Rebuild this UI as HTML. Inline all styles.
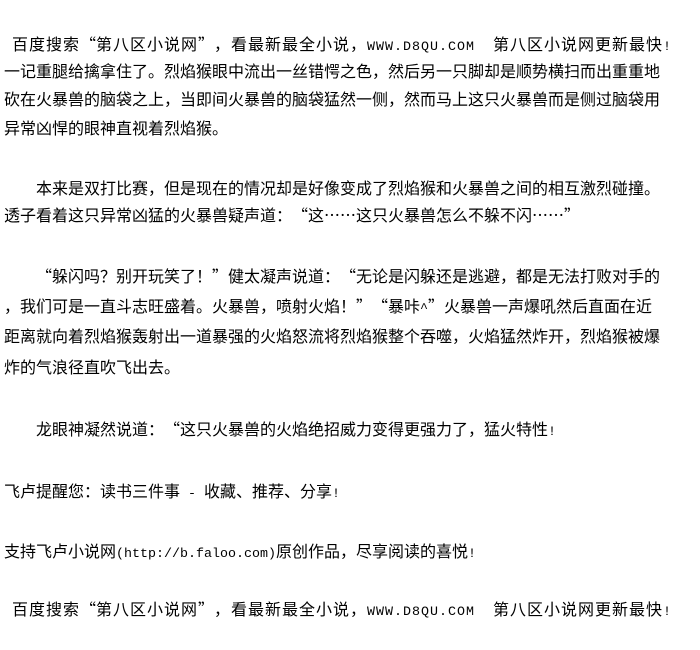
<!DOCTYPE html>
<html><head><meta charset="utf-8"><style>
body{margin:0;width:700px;height:650px;background:#fff;position:relative;overflow:hidden;font-family:"Noto Sans CJK SC",sans-serif;font-size:16px;color:#000}
div{position:absolute;white-space:pre;line-height:16px;left:4px}
.m{font-family:"Liberation Mono",monospace;font-size:13.33px}
i{font-style:normal;display:inline-block;width:1em}
i.o{text-align:right}
i.c{text-align:left}
.h{letter-spacing:1px}
.h .m{font-size:13.33px}
</style></head><body>
<div class="h" style="top:35px;left:12px">百度搜索<i class="o">“</i>第八区小说网<i class="c">”</i>，看最新最全小说，<span class="m">WWW.D8QU.COM  </span>第八区小说网更新最快<span class="m">!</span></div>
<div style="top:62px">一记重腿给擒拿住了。烈焰猴眼中流出一丝错愕之色，然后另一只脚却是顺势横扫而出重重地</div>
<div style="top:90px">砍在火暴兽的脑袋之上，当即间火暴兽的脑袋猛然一侧，然而马上这只火暴兽而是侧过脑袋用</div>
<div style="top:119px">异常凶悍的眼神直视着烈焰猴。</div>
<div style="top:179px;left:36px">本来是双打比赛，但是现在的情况却是好像变成了烈焰猴和火暴兽之间的相互激烈碰撞。</div>
<div style="top:206px">透子看着这只异常凶猛的火暴兽疑声道<i class="c">：</i><i class="o">“</i>这……这只火暴兽怎么不躲不闪……<i class="c">”</i></div>
<div style="top:267px;left:36px"><i class="o">“</i>躲闪吗？别开玩笑了！<i class="c">”</i>健太凝声说道<i class="c">：</i><i class="o">“</i>无论是闪躲还是逃避，都是无法打败对手的</div>
<div style="top:297px">，我们可是一直斗志旺盛着。火暴兽，喷射火焰！<i class="c">”</i><i class="o">“</i>暴咔<span class="m">^</span><i class="c">”</i>火暴兽一声爆吼然后直面在近</div>
<div style="top:327px">距离就向着烈焰猴轰射出一道暴强的火焰怒流将烈焰猴整个吞噬，火焰猛然炸开，烈焰猴被爆</div>
<div style="top:358px">炸的气浪径直吹飞出去。</div>
<div style="top:420px;left:36px">龙眼神凝然说道<i class="c">：</i><i class="o">“</i>这只火暴兽的火焰绝招威力变得更强力了，猛火特性<span class="m">!</span></div>
<div style="top:482px">飞卢提醒您<i class="c">：</i>读书三件事<span class="m"> - </span>收藏、推荐、分享<span class="m">!</span></div>
<div style="top:542px">支持飞卢小说网<span class="m">(http://b.faloo.com)</span>原创作品，尽享阅读的喜悦<span class="m">!</span></div>
<div class="h" style="top:600px;left:12px">百度搜索<i class="o">“</i>第八区小说网<i class="c">”</i>，看最新最全小说，<span class="m">WWW.D8QU.COM  </span>第八区小说网更新最快<span class="m">!</span></div>
</body></html>
